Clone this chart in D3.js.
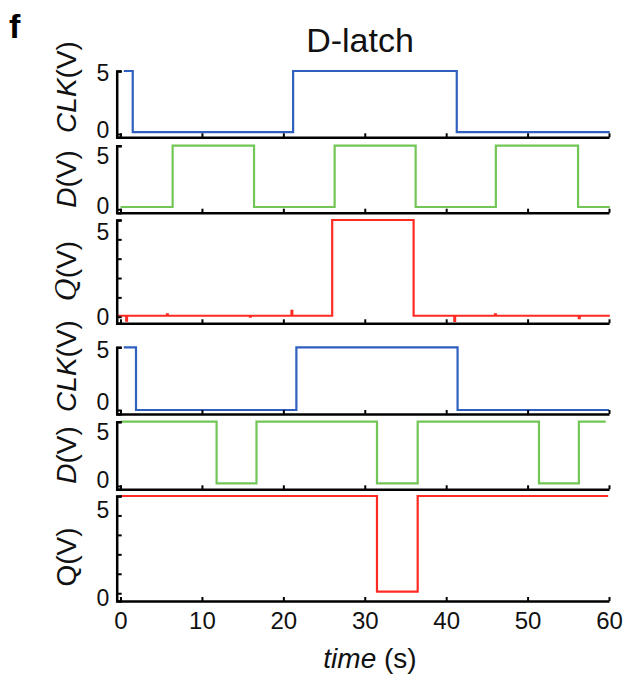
<!DOCTYPE html>
<html>
<head>
<meta charset="utf-8">
<script src="https://cdn.jsdelivr.net/npm/d3@7"></script>
<style>
  body { margin: 0; background: #fff; }
  svg { font-family: Arial, "Liberation Sans", Helvetica, sans-serif; }
  .axis path, .axis line { stroke: #000; }
  .axis path { stroke-width: 2.5; }
  .axis line { stroke-width: 2; }
  .axis text { font-size: 23px; fill: #111; }
</style>
</head>
<body>
<div id="container"></div>
<script>
var width = 631,
    height = 679;

// data (time in s, level in V), step waveforms
var xTicks = [0, 10, 20, 30, 40, 50, 60];
var yMajor = [0, 5];
var yMinor = [0, 1, 2, 3, 4, 5];

var clk1T = [0.4, 1.5, 21.2, 41.3, 60.1];
var clk1V = [5, 0.15, 5, 0.15, 0.15];
var d1T = [0, 6.4, 16.4, 26.3, 36.25, 46.1, 56.2, 60.1];
var d1V = [0.18, 5, 0.18, 5, 0.18, 5, 0.18, 0.18];
var q1T = [-0.4, 0.7, 0.8, 5.7, 5.8, 15.9, 16.0, 21.0, 21.1, 26.0, 36.0, 41.0, 41.1, 46.0, 46.1, 56.3, 56.4, 60.1];
var q1V = [0.05, -0.2, 0.05, 0.12, 0.05, 0.0, 0.05, 0.3, 0.05, 5, 0.05, -0.22, 0.05, 0.12, 0.05, -0.08, 0.05, 0.05];

var clk2T = [0.4, 1.9, 21.6, 41.4, 60];
var clk2V = [5, 0, 5, 0, 0];
var d2T = [0, 11.8, 16.7, 31.5, 36.5, 51.4, 56.3, 59.6];
var d2V = [5, 0.2, 5, 0.2, 5, 0.2, 5, 5];
var q2T = [0, 31.5, 36.5, 59.9];
var q2V = [5, 0.08, 5, 5];

var blue = '#2f5fbf', green = '#72c656', red = '#ff2a22';

// panel layout: pixel top/bottom, lower domain bound, label shifts for "5"/"0"
var panels = [
  { top: 71, bottom: 137.3, min: -0.26, ticks: yMajor, T: clk1T, V: clk1V, color: blue, shift: [2, -4] },
  { top: 145.7, bottom: 212.7, min: -0.27, ticks: yMajor, T: d1T, V: d1V, color: green, shift: [10, -3] },
  { top: 220, bottom: 323.3, min: -0.34, ticks: yMinor, T: q1T, V: q1V, color: red, shift: [12, 0] },
  { top: 347.3, bottom: 414, min: -0.32, ticks: yMajor, T: clk2T, V: clk2V, color: blue, shift: [3, -8] },
  { top: 421.7, bottom: 489.3, min: -0.26, ticks: yMajor, T: d2T, V: d2V, color: green, shift: [10, -6] },
  { top: 496, bottom: 601, min: -0.4, ticks: yMinor, T: q2T, V: q2V, color: red, shift: [14, 5] }
];

var svg = d3.select('#container')
    .append('svg')
    .attr('width', width)
    .attr('height', height);

var scale_x = d3.scaleLinear()
    .domain([-0.47, 60])
    .range([116.7, 609]);

panels.forEach(function (p, i) {
  var scale_y = d3.scaleLinear()
      .domain([p.min, 5])
      .range([p.bottom, p.top]);

  var line_generator = d3.line()
      .x(function (d) { return scale_x(d[0]); })
      .y(function (d) { return scale_y(d[1]); })
      .curve(d3.curveStepAfter);

  svg.append('path')
      .attr('d', line_generator(d3.zip(p.T, p.V)))
      .attr('fill', 'none')
      .attr('stroke', p.color)
      .attr('stroke-width', 2.2);

  // x axis, ticks inward
  var xg = svg.append('g')
      .attr('class', 'axis')
      .attr('transform', 'translate(0,' + p.bottom + ')')
      .call(d3.axisBottom(scale_x)
        .tickValues(xTicks)
        .tickSizeInner(-4)
        .tickSizeOuter(0)
        .tickPadding(11)
        .tickFormat(i === panels.length - 1 ? d3.format('d') : ''));
  xg.selectAll('text').attr('dy', '0.71em').style('font-size', '24px');

  // y axis
  var yg = svg.append('g')
      .attr('class', 'axis')
      .attr('transform', 'translate(' + scale_x(-0.47) + ',0)')
      .call(d3.axisLeft(scale_y)
        .tickValues(p.ticks)
        .tickSizeInner(-5)
        .tickSizeOuter(-5)
        .tickPadding(7.5)
        .tickFormat(function (d) { return yMajor.indexOf(d) >= 0 ? d : ''; }));
  yg.selectAll('text').attr('y', function (d) { return d === 5 ? p.shift[0] : p.shift[1]; });
});

// y labels
function ylab(cx, cy, parts) {
  var t = svg.append('text')
      .attr('transform', 'translate(' + cx + ',' + cy + ') rotate(-90)')
      .attr('text-anchor', 'middle')
      .style('font-size', '28px')
      .attr('fill', '#111');
  parts.forEach(function (s) {
    t.append('tspan')
        .text(s[0])
        .style('font-style', s[1] ? 'italic' : 'normal')
        .style('font-family', s[2] || null);
  });
}
ylab(76, 87, [['CLK', true], ['(V)', false]]);
ylab(76, 179, [['D', true], ['(V)', false]]);
ylab(76, 271, [['Q', true, '"DejaVu Serif", serif'], ['(V)', false]]);
ylab(76, 366, [['CLK', true], ['(V)', false]]);
ylab(76, 455, [['D', true], ['(V)', false]]);
ylab(76, 557, [['Q', false], ['(V)', false]]);

// x label
var xl = svg.append('text')
    .attr('x', 370)
    .attr('y', 668)
    .attr('text-anchor', 'middle')
    .style('font-size', '28px')
    .attr('fill', '#111');
xl.append('tspan').text('time').style('font-style', 'italic');
xl.append('tspan').text(' (s)');

// title and panel letter
svg.append('text')
    .attr('x', 360)
    .attr('y', 52)
    .attr('text-anchor', 'middle')
    .style('font-size', '34px')
    .attr('fill', '#111')
    .text('D-latch');
svg.append('text')
    .attr('x', 9)
    .attr('y', 38)
    .style('font-size', '34px')
    .style('font-weight', 'bold')
    .text('f');
</script>
</body>
</html>
